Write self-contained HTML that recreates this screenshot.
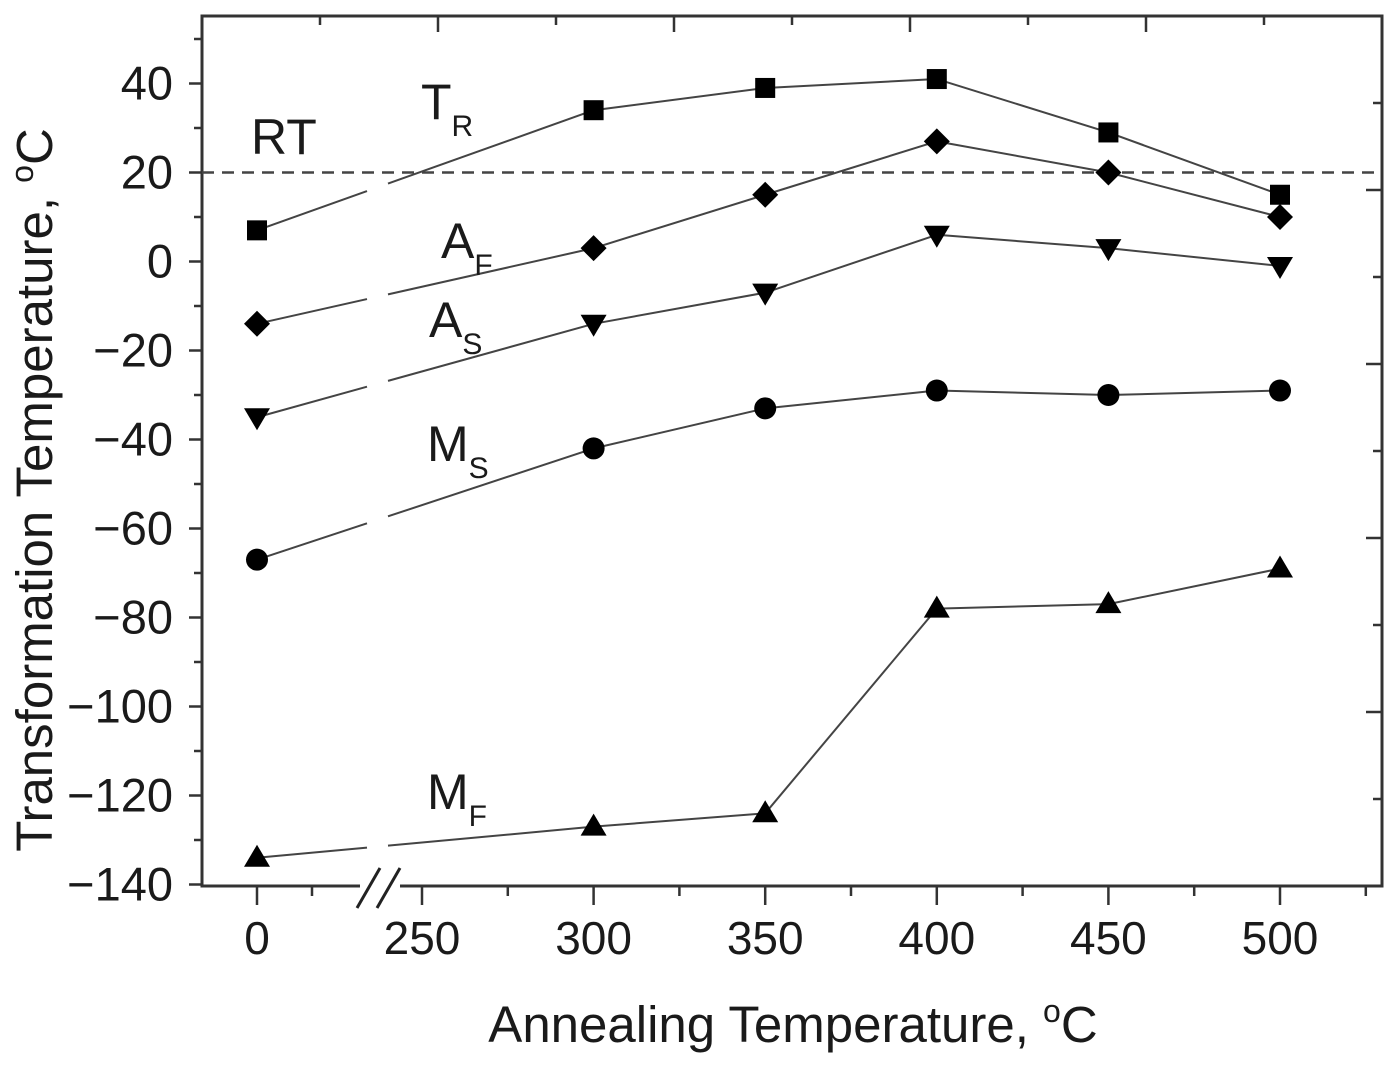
<!DOCTYPE html>
<html><head><meta charset="utf-8"><style>
html,body{margin:0;padding:0;background:#fff;}
svg text{font-family:"Liberation Sans",Arial,sans-serif;fill:#1a1a1a;}
</style></head><body>
<svg id="chart" width="1400" height="1060" xmlns="http://www.w3.org/2000/svg">
<g id="axes"></g>
<g id="series"></g>
<g id="labels"></g>
</svg>
<script>
const categories = [0, 300, 350, 400, 450, 500];
const seriesTR = [7, 34, 39, 41, 29, 15];
const seriesAF = [-14, 3, 15, 27, 20, 10];
const seriesAS = [-35, -14, -7, 6, 3, -1];
const seriesMS = [-67, -42, -33, -29, -30, -29];
const seriesMF = [-134, -127, -124, -78, -77, -69];
const xTickLabels = [0, 250, 300, 350, 400, 450, 500];
const yTickLabels = [40, 20, 0, -20, -40, -60, -80, -100, -120, -140];
const roomTemp = 20;

const NS = "http://www.w3.org/2000/svg";
const L = 202, R = 1382, T = 16, B = 886;
function xPos(v){ return v === 0 ? 257 : 422 + (v - 250) * 3.432; }
function yPos(v){ return 261.5 - v * 4.45; }
function mk(tag, attrs, parent){ const e = document.createElementNS(NS, tag); for (const k in attrs) e.setAttribute(k, attrs[k]); parent.appendChild(e); return e; }
const axes = document.getElementById('axes');
const ser = document.getElementById('series');
const lab = document.getElementById('labels');

const frame = mk('rect', {x:L, y:T, width:R-L, height:B-T, fill:'none', stroke:'#333', 'stroke-width':3}, axes);



for (let v = 50; v >= -140; v -= 10) {
  const major = v % 20 === 0;
  const t = mk('line', {x1:L - (major ? 13 : 8), x2:L, y1:yPos(v), y2:yPos(v), stroke:'#333', 'stroke-width':2.5}, axes);
  
  
}
yTickLabels.forEach(v => {
  const t = mk('text', {x:173, y:yPos(v) + 16, 'text-anchor':'end', 'font-size':47}, axes);
  t.textContent = v < 0 ? '\u2212' + Math.abs(v) : String(v);
  
  
});
for (let i = 0; i < 10; i++) {
  const y = 103 + i * 87;
  if (y > B - 2) break;
  const major = i % 2 === 1;
  const t = mk('line', {x1:R - (major ? 16 : 9), x2:R, y1:y, y2:y, stroke:'#333', 'stroke-width':2.5}, axes);
  
  
}
for (let i = 0; i < 9; i++) {
  const x = 320 + i * 118;
  if (x > R - 5) break;
  const major = i % 2 === 1;
  const t = mk('line', {x1:x, x2:x, y1:T, y2:T + (major ? 16 : 9), stroke:'#333', 'stroke-width':2.5}, axes);
  
  
}
const bottomTicks = [[0,1],[25,0],[250,1],[275,0],[300,1],[325,0],[350,1],[375,0],[400,1],[425,0],[450,1],[475,0],[500,1],[525,0]];
bottomTicks.forEach(([v, m]) => {
  const x = v === 25 ? 312 : xPos(v);
  const t = mk('line', {x1:x, x2:x, y1:B, y2:B + (m ? 19 : 10), stroke:'#333', 'stroke-width':2.5}, axes);
  
  
});
xTickLabels.forEach(v => {
  const t = mk('text', {x:xPos(v), y:954, 'text-anchor':'middle', 'font-size':46}, axes);
  t.textContent = String(v);
  
  
});
const brk = mk('rect', {x:360, y:B - 4, width:40, height:8, fill:'#fff'}, axes);


[[357, 908, 380, 868], [377, 908, 400, 868]].forEach(c => {
  const b = mk('line', {x1:c[0], y1:c[1], x2:c[2], y2:c[3], stroke:'#222', 'stroke-width':3}, axes);
  
  
});

const rt = mk('line', {x1:L, x2:R, y1:yPos(roomTemp), y2:yPos(roomTemp), stroke:'#444', 'stroke-width':2.5, 'stroke-dasharray':'12,8'}, ser);



function marker(shape, x, y, g){
  let e;
  if (shape === 'square') e = mk('rect', {x:x-10, y:y-10, width:20, height:20, fill:'#000'}, g);
  else if (shape === 'diamond') e = mk('polygon', {points:`${x},${y-13} ${x+13},${y} ${x},${y+13} ${x-13},${y}`, fill:'#000'}, g);
  else if (shape === 'down') e = mk('polygon', {points:`${x-13},${y-9} ${x+13},${y-9} ${x},${y+13}`, fill:'#000'}, g);
  else if (shape === 'up') e = mk('polygon', {points:`${x-13},${y+9} ${x+13},${y+9} ${x},${y-13}`, fill:'#000'}, g);
  else e = mk('circle', {cx:x, cy:y, r:11, fill:'#000'}, g);
  return e;
}
function drawSeries(vals, shape, name){
  const g = mk('g', {}, ser);
  
  
  const pts = vals.map((v, i) => [xPos(categories[i]), yPos(v)]);
  for (let i = 0; i < pts.length - 1; i++) {
    const [x1, y1] = pts[i], [x2, y2] = pts[i+1];
    if (i === 0) {
      const f = x => y1 + (y2 - y1) * (x - x1) / (x2 - x1);
      [[x1, 367], [388, x2]].forEach(([a, b]) => {
        const s = mk('line', {x1:a, y1:f(a), x2:b, y2:f(b), stroke:'#444', 'stroke-width':2}, g);
        
        
      });
    } else {
      const s = mk('line', {x1, y1, x2, y2, stroke:'#444', 'stroke-width':2}, g);
      
      
    }
  }
  pts.forEach(([x, y]) => {
    const m = marker(shape, x, y, g);
    
    
  });
}
drawSeries(seriesTR, 'square', 'series-tr');
drawSeries(seriesAF, 'diamond', 'series-af');
drawSeries(seriesAS, 'down', 'series-as');
drawSeries(seriesMS, 'circle', 'series-ms');
drawSeries(seriesMF, 'up', 'series-mf');

function label(main, sub, x, y, name){
  const t = mk('text', {x:x, y:y, 'font-size':50}, lab);
  t.textContent = main;
  
  
  if (sub) {
    const s = mk('tspan', {'font-size':30, dy:17}, t);
    s.textContent = sub;
  }
}
label('RT', null, 251, 154, 'rt-label');
label('T', 'R', 421, 119, 'tr-label');
label('A', 'F', 441, 258, 'af-label');
label('A', 'S', 429, 337, 'as-label');
label('M', 'S', 427, 461, 'ms-label');
label('M', 'F', 427, 809, 'mf-label');

const yt = mk('text', {x:0, y:0, 'font-size':51, 'text-anchor':'middle', transform:'translate(52,490) rotate(-90)'}, lab);
yt.textContent = 'Transformation Temperature, ';
const yo = mk('tspan', {'font-size':32, dy:-19}, yt); yo.textContent = 'o';
const yc = mk('tspan', {dy:19}, yt); yc.textContent = 'C';



const xt = mk('text', {x:793, y:1042, 'font-size':51, 'text-anchor':'middle'}, lab);
xt.textContent = 'Annealing Temperature, ';
const xo = mk('tspan', {'font-size':32, dy:-20}, xt); xo.textContent = 'o';
const xc = mk('tspan', {dy:20}, xt); xc.textContent = 'C';


</script>
</body></html>
